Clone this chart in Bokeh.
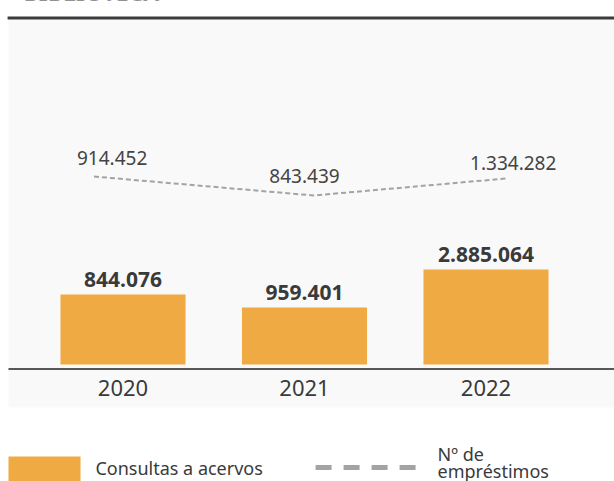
from bokeh.plotting import figure
from bokeh.models import Range1d, ColumnDataSource, BoxAnnotation
from bokeh.core.properties import value
from bokeh.embed import file_html
from bokeh.resources import INLINE

# ---- data ----
title = "BIBLIOTECA"
years = ["2020", "2021", "2022"]
consultas = [844076, 959401, 2885064]          # Consultas a acervos (bar labels)
emprestimos = [914452, 843439, 1334282]        # Nº de empréstimos (line labels)
bar_heights = [70, 57, 95]                     # drawn bar heights (chart units)
line_levels = [188, 169, 186]                  # drawn line levels (chart units)

def fmt(v):
    return f"{v:,}".replace(",", ".")

FONT = "Noto Sans"
TXT = "#3a3a3a"
ORANGE = "#EFAA43"
GRAY = "#a3a3a3"

xs = list(range(len(years)))

p = figure(width=614, height=481, x_range=Range1d(-0.675, 2.708), y_range=Range1d(-117, 364),
           x_axis_type=None, y_axis_type=None, toolbar_location=None, output_backend="svg",
           min_border=0, outline_line_color=None, background_fill_color="white",
           border_fill_color="white")
p.grid.visible = False

# panel and rules
p.add_layout(BoxAnnotation(left=-0.631, bottom=-43, top=345, fill_color="#f9f9f9", fill_alpha=1,
                           line_color=None, level="underlay"))
p.add_layout(BoxAnnotation(left=-0.636, bottom=345, top=348, fill_color="#3c3c3c", fill_alpha=1,
                           line_color=None))
p.add_layout(BoxAnnotation(left=-0.631, bottom=-5.2, top=-3.8, fill_color="#222222", fill_alpha=1,
                           line_color=None))

# title (cut off at the top edge, as in the reference)
p.text(x=[-0.548], y=[372.5], text=[title], text_font=value(FONT), text_font_style="bold",
       text_font_size="23px", text_color="#333333", text_baseline="middle")

# bars
bar_src = ColumnDataSource(dict(x=xs, top=bar_heights, label=[fmt(v) for v in consultas]))
p.vbar(x="x", top="top", bottom=0, width=0.689, source=bar_src, fill_color=ORANGE,
       line_color=None)
p.text(x="x", y="top", text="label", source=bar_src, text_font=value(FONT),
       text_font_style="bold", text_font_size="21px", text_color=TXT,
       text_align="center", text_baseline="middle", y_offset=-15)

# dashed line
line_x = [x + d for x, d in zip(xs, [-0.16, 0.05, 0.11])]
line_src = ColumnDataSource(dict(x=line_x, y=line_levels))
p.line(x="x", y="y", source=line_src, line_color=GRAY, line_width=2, line_dash="5 3")
lab_src = ColumnDataSource(dict(x=[x + d for x, d in zip(xs, [-0.06, 0.0, 0.15])],
                                y=[v + d for v, d in zip(line_levels, [19, 20, 16])],
                                label=[fmt(v) for v in emprestimos]))
p.text(x="x", y="y", text="label", source=lab_src, text_font=value(FONT),
       text_font_size="19px", text_color="#444444", text_align="center",
       text_baseline="middle")

# year labels
p.text(x=xs, y=[-23.5] * len(xs), text=years, text_font=value(FONT), text_font_size="22px",
       text_color=TXT, text_align="center", text_baseline="middle")

# legend (manual)
p.quad(left=[-0.631], right=[-0.234], bottom=[-120], top=[-92], fill_color=ORANGE,
       line_color=None)
p.text(x=[-0.152], y=[-103], text=["Consultas a acervos"], text_font=value(FONT),
       text_font_size="18px", text_color=TXT, text_baseline="middle")
p.line(x=[1.061, 1.612], y=[-103, -103], line_color=GRAY, line_width=5, line_dash="16 12")
p.text(x=[1.733, 1.733], y=[-89.5, -106.5], text=["Nº de", "empréstimos"], text_font=value(FONT),
       text_font_size="18px", text_color=TXT, text_baseline="middle")

html = file_html(p, INLINE)
open("out.html", "w").write(html)
